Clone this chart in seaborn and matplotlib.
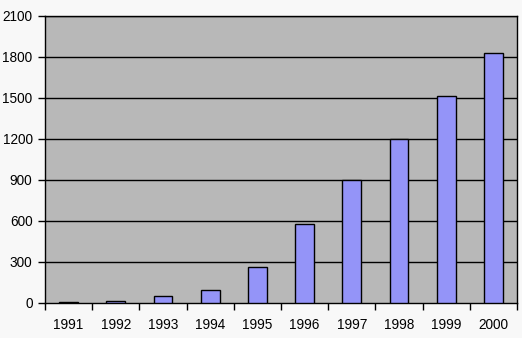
import matplotlib
matplotlib.use("Agg")
import matplotlib.pyplot as plt
import seaborn as sns
import pandas as pd
from matplotlib.ticker import FixedLocator, NullFormatter

years = ["1991", "1992", "1993", "1994", "1995", "1996", "1997", "1998", "1999", "2000"]
values = [4, 12, 48, 93, 258, 575, 895, 1198, 1512, 1826]
y_ticks = [0, 300, 600, 900, 1200, 1500, 1800, 2100]

sns.set_style("white")
plt.rcParams['font.family'] = ['Liberation Sans', 'DejaVu Sans']

df = pd.DataFrame({"year": years, "value": values})

fig = plt.figure(figsize=(5.22, 3.38), dpi=100, facecolor="#F8F8F8")
ax = fig.add_axes([45/522, 1 - 302.5/338, (517-45)/522, (302.5-16)/338])
ax.set_facecolor("#B8B8B8")

sns.barplot(data=df, x="year", y="value", color="#9494F8", saturation=1,
            width=0.4, edgecolor="black", linewidth=1, ax=ax, zorder=3)

ax.set_ylim(0, 2100)
ax.set_xlim(-0.5, len(years) - 0.5)
ax.set_yticks(y_ticks)
ax.set_yticklabels([str(t) for t in y_ticks])
for t in y_ticks[1:]:
    ax.axhline(t, color="black", linewidth=1, zorder=1)

ax.xaxis.set_minor_locator(FixedLocator([i + 0.5 for i in range(-1, len(years))]))
ax.xaxis.set_minor_formatter(NullFormatter())
ax.tick_params(axis="x", which="major", length=0, pad=11, labelsize=9.8, colors="black")
ax.tick_params(axis="x", which="minor", length=5, width=1, direction="out", color="black", bottom=True)
ax.tick_params(axis="y", which="major", length=5, width=1, direction="out", pad=4, labelsize=9.8, colors="black", left=True)

for s in ax.spines.values():
    s.set_visible(True)
    s.set_color("black")
    s.set_linewidth(1)

ax.set_xlabel("")
ax.set_ylabel("")

fig.savefig("out.png", dpi=100, facecolor=fig.get_facecolor())
